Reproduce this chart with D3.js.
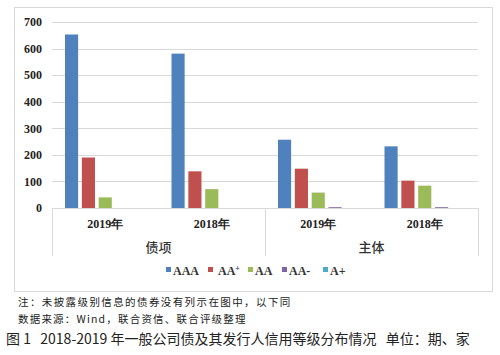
<!DOCTYPE html>
<html><head><meta charset="utf-8">
<script src="https://cdn.jsdelivr.net/npm/d3@7"></script>
<style>body{margin:0;background:#fff}svg{display:block}
.sf{font-family:"Liberation Serif","DejaVu Serif",serif;font-weight:bold}
.cj{font-family:"Noto Sans CJK SC",sans-serif}
</style>
</head><body>
<svg id="c" width="500" height="355"></svg>
<script>
const years = ["2019年","2018年","2019年","2018年"];
const groups = ["债项","主体"];
const seriesNames = ["AAA","AA+","AA","AA-","A+"];
const AAA = [653, 581, 257, 232];
const AAplus = [190, 138, 148, 103];
const AA = [40, 71, 58, 84];
const AAminus = [0, 0, 3, 3];
const Aplus = [0, 0, 0, 0];
const yTicks = [0,100,200,300,400,500,600,700];
const colors = ["#4F81BD","#C0504D","#9BBB59","#8064A2","#4BACC6"];
const seriesVals = [AAA, AAplus, AA, AAminus, Aplus];

const svg = d3.select("#c");
const L = 52, R = 478, T = 22, B = 208;

svg.append("rect").attr("x",14.5).attr("y",7.5).attr("width",478).attr("height",284)
  .attr("fill","#fff").attr("stroke","#d9d9d9");

const catIdx = d3.range(years.length);
const x0 = d3.scaleBand().domain(catIdx).range([L,R]);
const x1 = d3.scaleBand().domain(seriesNames).range([13, x0.bandwidth()-13]).paddingInner(0.22);
const y = d3.scaleLinear().domain([0,700]).range([B,T]);

svg.append("g").selectAll("line").data(yTicks.slice(1)).join("line")
  .attr("x1",L).attr("x2",R).attr("y1",d=>Math.round(y(d))+0.5).attr("y2",d=>Math.round(y(d))+0.5)
  .attr("stroke","#d9d9d9").attr("stroke-width",1);

const yAxis = d3.axisLeft(y).tickValues(yTicks).tickSize(0).tickPadding(0);
const ya = svg.append("g").attr("transform",`translate(42,0)`).call(yAxis);
ya.attr("font-family",null).attr("font-size",null);
ya.select(".domain").remove();
ya.selectAll("text").attr("class","sf").style("font-size","12px").attr("fill","#222");

seriesNames.forEach((s,si)=>{
  svg.append("g").selectAll("rect").data(catIdx).join("rect")
    .attr("x",i=>x0(i)+x1(s))
    .attr("width",x1.bandwidth())
    .attr("y",i=>y(seriesVals[si][i]))
    .attr("height",i=>B-y(seriesVals[si][i]))
    .attr("fill",colors[si]);
});

const ax = svg.append("g").attr("stroke","#d9d9d9").attr("stroke-width",1);
ax.append("line").attr("x1",L).attr("x2",R).attr("y1",B+0.5).attr("y2",B+0.5);
[L, (L+R)/2, R].forEach(xx=>{
  ax.append("line").attr("x1",Math.round(xx)+0.5).attr("x2",Math.round(xx)+0.5).attr("y1",B).attr("y2",256);
});
svg.append("g").selectAll("text").data(catIdx).join("text")
  .attr("class","sf")
  .attr("x",i=>x0(i)+x0.bandwidth()/2).attr("y",228)
  .attr("text-anchor","middle").style("font-size","12px")
  .attr("fill","#222")
  .text(i=>years[i]);
const gx = d3.scaleBand().domain(groups).range([L,R]);
svg.append("g").selectAll("text").data(groups).join("text")
  .attr("class","cj")
  .attr("x",d=>gx(d)+gx.bandwidth()/2).attr("y",252)
  .attr("text-anchor","middle").style("font-size","13px").style("font-weight","500")
  .attr("fill","#333")
  .text(d=>d);

const legX = [166, 208, 248, 282, 323];
const lg = svg.append("g");
seriesNames.forEach((s,i)=>{
  lg.append("rect").attr("x",legX[i]).attr("y",267).attr("width",5).attr("height",5).attr("fill",colors[i]);
  const t = lg.append("text").attr("class","sf").attr("x",legX[i]+ (i===1?10:7)).attr("y",275)
    .style("font-size","12px").attr("fill","#333");
  if (s==="AA+") { t.append("tspan").text("AA"); t.append("tspan").style("font-size","8px").attr("dy",-4).text("+"); }
  else t.text(s);
});

svg.append("text").attr("class","cj").attr("x",18).attr("y",306).style("font-size","10.5px")
  .attr("letter-spacing",1.4).attr("fill","#222").text("注：未披露级别信息的债券没有列示在图中，以下同");
svg.append("text").attr("class","cj").attr("x",18).attr("y",323).style("font-size","10.5px")
  .attr("letter-spacing",1.2).attr("fill","#222")
  .text("数据来源：Wind，联合资信、联合评级整理");
svg.append("text").attr("class","cj").attr("x",6).attr("y",344).style("font-size","14px")
  .attr("fill","#222").attr("xml:space","preserve")
  .text("图 1   2018-2019 年一般公司债及其发行人信用等级分布情况   单位：期、家");
</script>
</body></html>
